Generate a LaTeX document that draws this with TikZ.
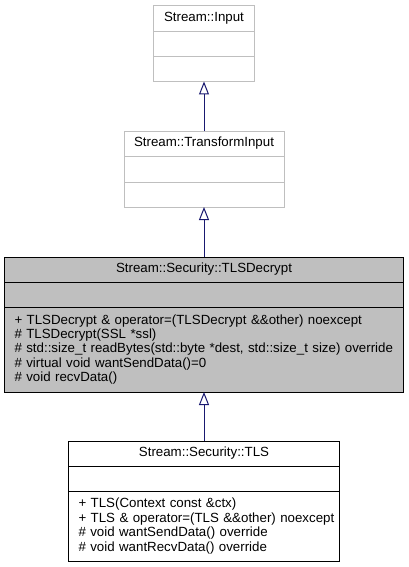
\documentclass[tikz,border=0pt]{standalone}
\usepackage{fontspec}
\setmainfont{Liberation Sans}
\usetikzlibrary{arrows.meta,positioning}
\definecolor{edgeblue}{RGB}{25,25,112}
\definecolor{greyline}{RGB}{191,191,191}

\begin{document}
\begin{tikzpicture}[
    x=1pt, y=-1pt,
    cbox/.style={
      rectangle, draw=#1, line width=1pt, outer sep=0pt, inner sep=0pt,
      font=\fontsize{13.3}{14.4}\selectfont, align=center
    },
    cbox/.default=black,
    members/.style={align=left, inner xsep=10pt, anchor=north},
    arr/.style={-{Triangle[open,length=13pt,width=10pt]}, line width=1pt, edgeblue},
  ]
  \useasboundingbox (0,0) rectangle (408,567);

  %% --- Stream::Input ---
  \node[cbox=greyline, minimum width=101pt, minimum height=26pt] (inputname) at (204,18.5) {Stream::Input};
  \node[cbox=greyline, minimum width=101pt, minimum height=25pt, below=0pt of inputname] (inputattr) {};
  \node[cbox=greyline, minimum width=101pt, minimum height=25pt, below=0pt of inputattr] (inputops) {};

  %% --- Stream::TransformInput ---
  \node[cbox=greyline, minimum width=160pt, minimum height=25pt] (transname) at (204,143.5) {Stream::TransformInput};
  \node[cbox=greyline, minimum width=160pt, minimum height=26pt, below=0pt of transname] (transattr) {};
  \node[cbox=greyline, minimum width=160pt, minimum height=25pt, below=0pt of transattr] (transops) {};

  %% --- Stream::Security::TLSDecrypt ---
  \node[cbox, fill=greyline, minimum width=399pt, minimum height=25pt] (decname) at (204,269.5) {Stream::Security::TLSDecrypt};
  \node[cbox, fill=greyline, minimum width=399pt, minimum height=25pt, below=0pt of decname] (decattr) {};
  \node[cbox, fill=greyline, members, text width=379pt, minimum height=85pt, below=0pt of decattr] (decops)
    {\mbox{+ TLSDecrypt \& operator=(TLSDecrypt \&\&other) noexcept}\\
     \# TLSDecrypt(SSL *ssl)\\
     \mbox{\# std::size\_t readBytes(std::byte *dest, std::size\_t size) override}\\
     \# virtual void wantSendData()=0\\
     \# void recvData()};

  %% --- Stream::Security::TLS ---
  \node[cbox, fill=white, minimum width=271pt, minimum height=25pt] (tlsname) at (204,453.5) {Stream::Security::TLS};
  \node[cbox, fill=white, minimum width=271pt, minimum height=25pt, below=0pt of tlsname] (tlsattr) {};
  \node[cbox, fill=white, members, text width=251pt, minimum height=70pt, below=0pt of tlsattr] (tlsops)
    {+ TLS(Context const \&ctx)\\
     \mbox{+ TLS \& operator=(TLS \&\&other) noexcept}\\
     \# void wantSendData() override\\
     \# void wantRecvData() override};

  \draw[arr] (transname.north) -- (inputops.south);
  \draw[arr] (decname.north)   -- (transops.south);
  \draw[arr] (tlsname.north)   -- (decops.south);
\end{tikzpicture}
\end{document}
